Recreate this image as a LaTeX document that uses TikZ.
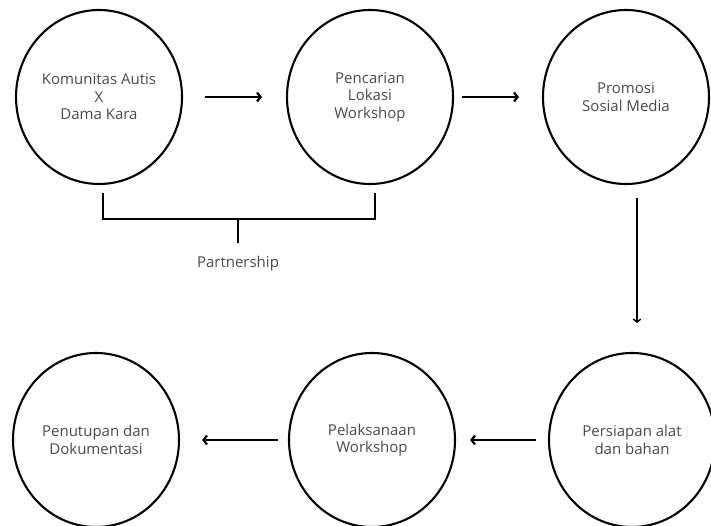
\documentclass[tikz,border=0pt]{standalone}
\usepackage{fontspec}
\setmainfont{Open Sans}
\usetikzlibrary{shapes.geometric,arrows.meta}
\definecolor{txt}{HTML}{4A4A4A}
\tikzset{
  stage/.style={ellipse, draw=black, line width=2.1pt, inner sep=0pt,
    minimum width=166pt, minimum height=174pt, align=center,
    font=\fontsize{15}{17.5}\selectfont, text=txt},
  flow/.style={line width=2.3pt, -{Straight Barb[length=3.5pt,width=9pt]}},
  thinflow/.style={line width=1.4pt, -{Straight Barb[length=3pt,width=7.5pt]}},
  bracket/.style={line width=1.6pt},
}
\begin{document}
\begin{tikzpicture}[x=1pt,y=-1pt]
\useasboundingbox (0,0) rectangle (711,526);
\node[stage] (a) at (99,97) {Komunitas Autis\\X\\Dama Kara};
\node[stage] (b) at (370,97) {Pencarian\\Lokasi\\Workshop};
\node[stage] (c) at (626,97) {Promosi\\Sosial Media};
\node[stage] (d) at (632,440) {Persiapan alat\\dan bahan};
\node[stage] (e) at (372,440) {Pelaksanaan\\Workshop};
\node[stage] (f) at (96,440) {Penutupan dan\\Dokumentasi};
\draw[flow] ([xshift=22pt]a.east) -- ([xshift=-24pt]b.west);
\draw[flow] ([xshift=8pt]b.east) -- ([xshift=-23pt]c.west);
\coordinate (v1) at (637,198);
\coordinate (v2) at (637,323);
\draw[thinflow] (v1) -- (v2);
\draw[flow] ([xshift=-12pt]d.west) -- ([xshift=14pt]e.east);
\draw[flow] ([xshift=-10pt]e.west) -- ([xshift=22pt]f.east);
\coordinate (p1) at (103,193);
\coordinate (p2) at (103,219);
\coordinate (p3) at (375,219);
\coordinate (p4) at (375,193);
\coordinate (pm) at (238,219);
\coordinate (pm2) at (238,243);
\draw[bracket] (p1) -- (p2) -- (p3) -- (p4);
\draw[bracket] (pm) -- (pm2);
\node[font=\fontsize{15}{17}\selectfont, text=txt] (pt) at (238,264) {Partnership};
\end{tikzpicture}
\end{document}
